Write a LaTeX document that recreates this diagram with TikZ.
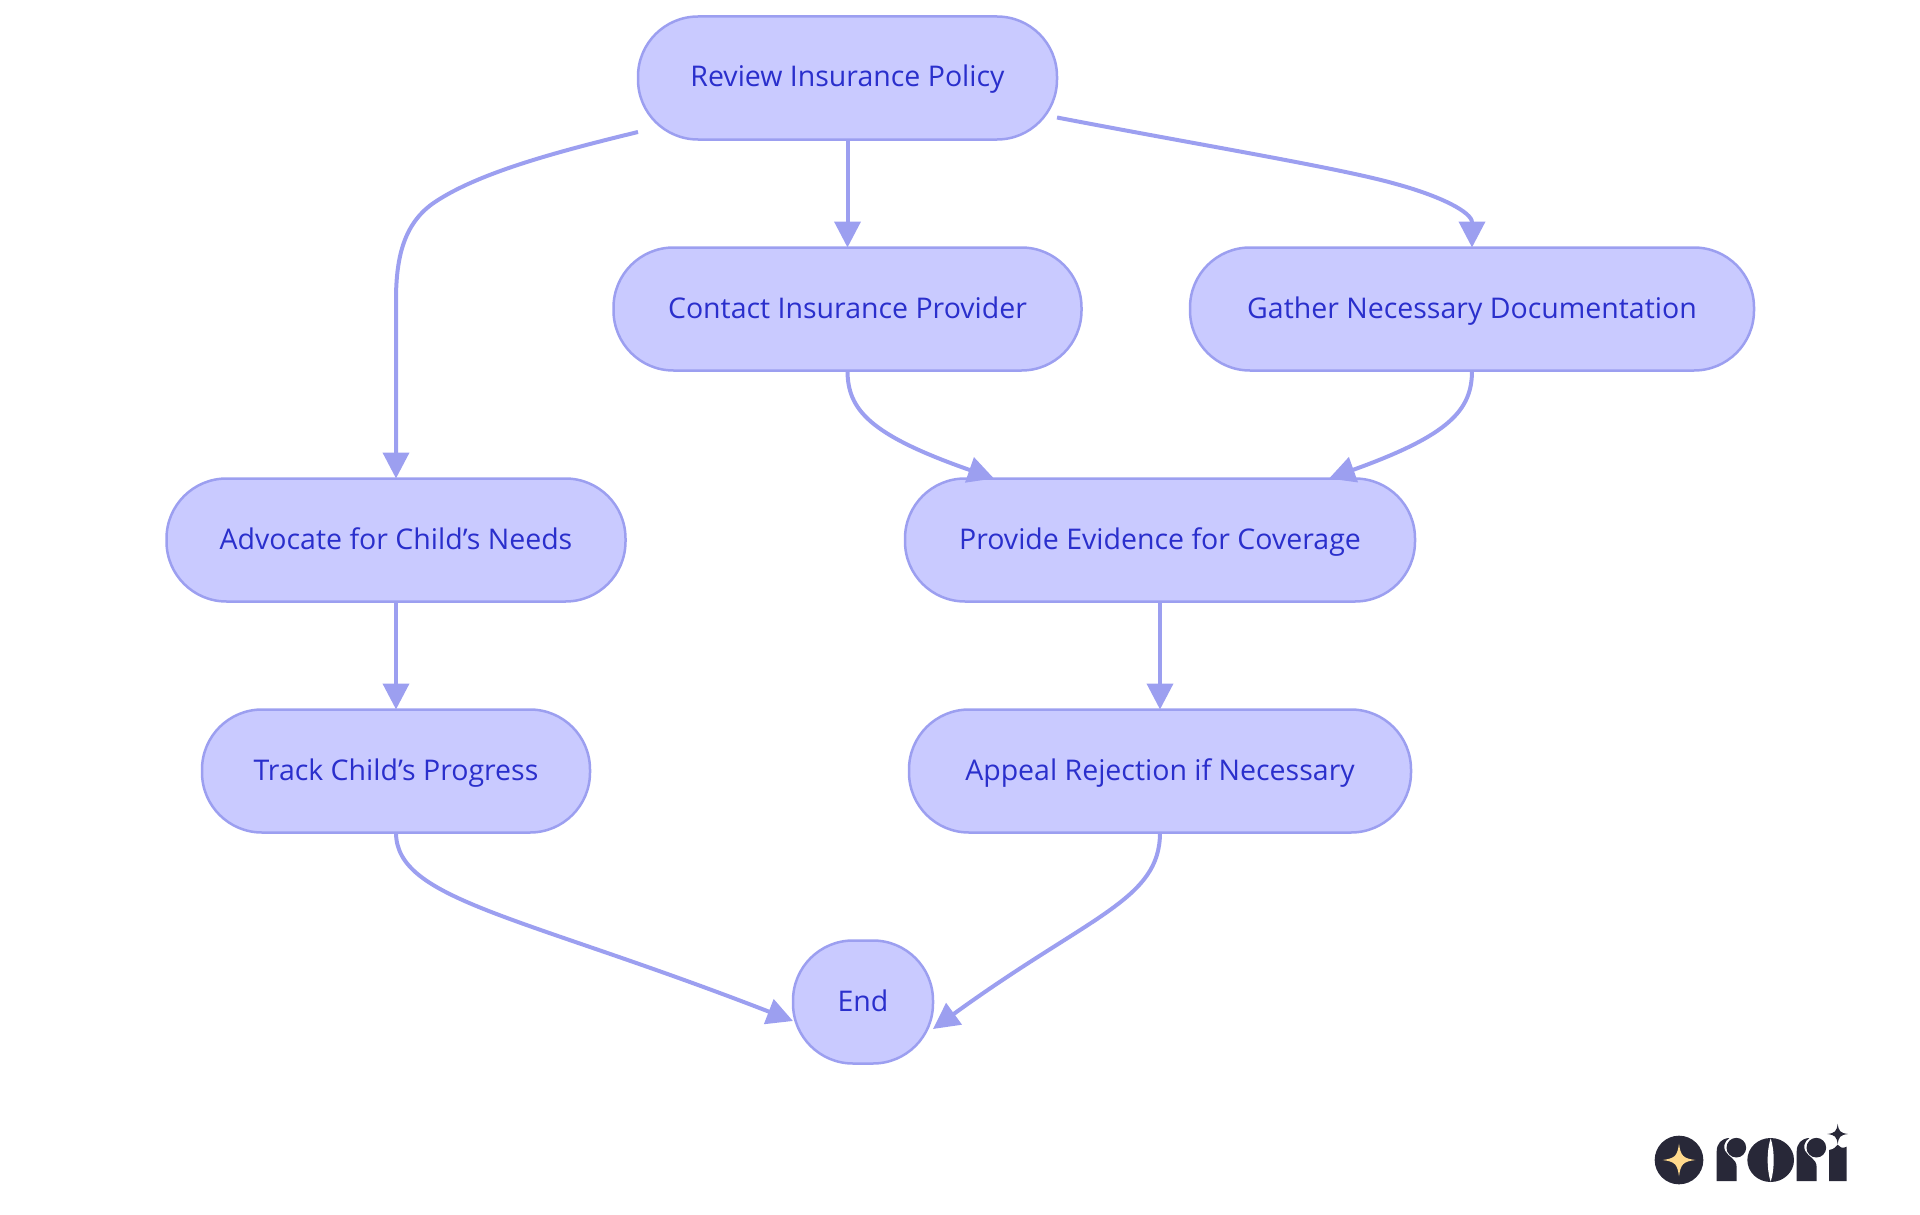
\documentclass[tikz,border=0pt]{standalone}
\usepackage{xcolor}
\usepackage{fontspec}
\setmainfont{Open Sans}
\usetikzlibrary{calc,arrows.meta}
\definecolor{nodefill}{HTML}{C9CAFF}
\definecolor{nodeline}{HTML}{9C9FF0}
\definecolor{nodetext}{HTML}{2A2FCC}
\definecolor{logodark}{HTML}{282838}
\definecolor{logostar}{HTML}{FFD98C}
\newcommand{\sparkle}[4]{(#1-#3,#2) .. controls (#1-#3*0.25,#2-#4*0.1) and (#1-#3*0.1,#2-#4*0.25) .. (#1,#2-#4) .. controls (#1+#3*0.1,#2-#4*0.25) and (#1+#3*0.25,#2-#4*0.1) .. (#1+#3,#2) .. controls (#1+#3*0.25,#2+#4*0.1) and (#1+#3*0.1,#2+#4*0.25) .. (#1,#2+#4) .. controls (#1-#3*0.1,#2+#4*0.25) and (#1-#3*0.25,#2+#4*0.1) .. cycle}
\newcommand{\logor}[1]{
	\fill[logodark, xshift=#1pt] (290,243) -- (290,155) .. controls (290,130) and (305,115) .. (328,114) .. controls (312,125) and (310,140) .. (315,152) .. controls (325,172) and (350,175) .. (350,202) -- (350,243) -- cycle;
	\fill[logodark, xshift=#1pt] (349,143) circle (29.5);
}
\tikzset{
	flownode/.style={draw=nodeline, fill=nodefill, text=nodetext, line width=2.5pt, rounded corners=60pt, minimum height=123pt, inner sep=0pt, outer sep=0pt, text height=23pt, text depth=5pt, font=\fontsize{28.5}{34}\selectfont},
	flowedge/.style={draw=nodeline, line width=4pt, -{Triangle[length=26pt,width=26pt]}},
}
\begin{document}
\begin{tikzpicture}[x=1pt, y=-1pt]
	\useasboundingbox (0,0) rectangle (1920,1215);
	\node[flownode, minimum width=419pt] (review) at (847.5,78) {Review Insurance Policy};
	\node[flownode, minimum width=468pt] (contact) at (847.5,309) {Contact Insurance Provider};
	\node[flownode, minimum width=564pt] (gather) at (1472,309) {Gather Necessary Documentation};
	\node[flownode, minimum width=459pt] (advocate) at (396,540) {Advocate for Child’s Needs};
	\node[flownode, minimum width=510pt] (evidence) at (1160,540) {Provide Evidence for Coverage};
	\node[flownode, minimum width=388pt] (track) at (396,771) {Track Child’s Progress};
	\node[flownode, minimum width=502pt] (appeal) at (1160,771) {Appeal Rejection if Necessary};
	\node[flownode, minimum width=140pt] (finish) at (863,1002) {End};
	\draw[flowedge] ([yshift=-54pt]review.west) .. controls (560,151) and (480,172) .. (435,202) .. controls (405,222) and (396,255) .. (396,300) -- (advocate.north);
	\draw[flowedge] (review.south) -- (contact.north);
	\draw[flowedge] ([yshift=-39.5pt]review.east) .. controls (1200,145) and (1340,168) .. (1396,184) .. controls (1440,196) and (1472,212) .. (gather.north);
	\draw[flowedge] (contact.south) .. controls (847.5,410) and (870,435) .. ([xshift=-166pt]evidence.north);
	\draw[flowedge] (gather.south) .. controls (1472,410) and (1450,435) .. ([xshift=169pt]evidence.north);
	\draw[flowedge] (advocate.south) -- (track.north);
	\draw[flowedge] (evidence.south) -- (appeal.north);
	\draw[flowedge] (track.south) .. controls (396,900) and (520,915) .. ([yshift=-19pt]finish.west);
	\draw[flowedge] (appeal.south) .. controls (1160,900) and (1090,915) .. ([yshift=-27pt]finish.east);
	\begin{scope}[shift={(1620,1100)}, x=1/3*1pt, y=-1/3*1pt]
		\fill[logodark] (177,180) circle (73);
		\fill[logostar] \sparkle{177}{180}{49}{49};
		\logor{0}
		\logor{80}
		\fill[logodark] (452,180) ellipse (70 and 66);
		\fill[white] (452,115) .. controls (440,150) and (440,210) .. (452,245) .. controls (464,210) and (464,150) .. (452,115) -- cycle;
		\fill[logodark] (627,243) -- (627,150) .. controls (642,148) and (648,140) .. (653,134) .. controls (658,140) and (666,148) .. (680,140) -- (680,243) -- cycle;
		\fill[logodark] \sparkle{653}{102}{31}{31};
	\end{scope}
\end{tikzpicture}
\end{document}
